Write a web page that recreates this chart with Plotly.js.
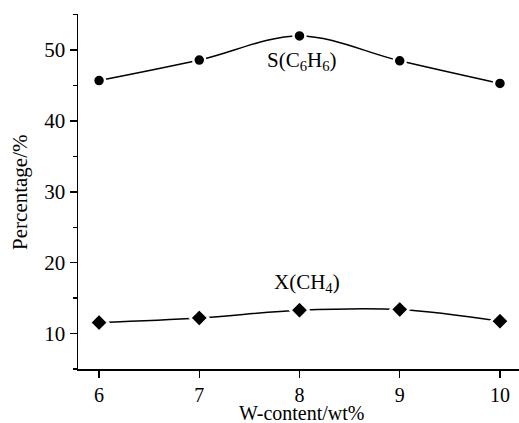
<!DOCTYPE html>
<html><head><meta charset="utf-8">
<script src="https://cdn.plot.ly/plotly-3.0.1.min.js"></script>
<style>body{margin:0;padding:0;background:#fff}#chart{width:519px;height:423px}</style>
</head><body><div id="chart"></div>
<script>
const wContent = [6, 7, 8, 9, 10];
const selC6H6 = [45.7, 48.6, 52.0, 48.5, 45.3];
const convCH4 = [11.55, 12.2, 13.3, 13.4, 11.75];
const xTicks = [6, 7, 8, 9, 10];
const yTicks = [10, 20, 30, 40, 50];
const xTitle = 'W-content/wt%';
const yTitle = 'Percentage/%';

const fontFam = '"Liberation Serif", "Times New Roman", serif';
const traces = [
  {x: wContent, y: selC6H6, mode: 'lines+markers', line: {shape: 'spline', smoothing: 1, color: '#000', width: 1.5},
   marker: {symbol: 'circle', size: 12, color: '#000', line: {color: '#fff', width: 2.5}}},
  {x: wContent, y: convCH4, mode: 'lines+markers', line: {shape: 'spline', smoothing: 1, color: '#000', width: 1.5},
   marker: {symbol: 'diamond', size: 14, color: '#000', line: {color: '#fff', width: 2.5}}}
];
const layout = {
  width: 519, height: 423, showlegend: false,
  paper_bgcolor: '#fff', plot_bgcolor: '#fff',
  margin: {l: 78, r: 0, t: 14, b: 54},
  font: {family: fontFam, size: 21, color: '#000'},
  xaxis: {range: [5.79, 10.19], tickvals: xTicks, ticktext: xTicks.map(String), showgrid: false, zeroline: false,
    showline: true, linecolor: '#000', linewidth: 1.5, ticks: 'outside', ticklen: 7, tickwidth: 1.5, tickcolor: '#000',
    automargin: false, tickfont: {family: fontFam, size: 20}},
  yaxis: {range: [5, 55.1], tickvals: yTicks, ticktext: yTicks.map(String), showgrid: false, zeroline: false,
    showline: true, linecolor: '#000', linewidth: 1.5, ticks: 'outside', ticklen: 7, tickwidth: 1.5, tickcolor: '#000',
    automargin: false, tickfont: {family: fontFam, size: 21},
    minor: {dtick: 5, ticks: 'outside', ticklen: 4, tickwidth: 1.5, tickcolor: '#000', showgrid: false}},
  annotations: [
    {x: 8.02, y: 48.5, xref: 'x', yref: 'y', text: 'S(C<sub>6</sub>H<sub>6</sub>)', showarrow: false, font: {family: fontFam, size: 21}},
    {x: 8.07, y: 17.2, xref: 'x', yref: 'y', text: 'X(CH<sub>4</sub>)', showarrow: false, font: {family: fontFam, size: 21}},
    {x: 0.508, y: -0.125, xref: 'paper', yref: 'paper', text: xTitle, showarrow: false, xanchor: 'center', yanchor: 'middle', borderpad: 0, font: {family: fontFam, size: 20}},
    {x: -0.1315, y: 0.496, xref: 'paper', yref: 'paper', text: yTitle, showarrow: false, textangle: -90, xanchor: 'center', yanchor: 'middle', font: {family: fontFam, size: 21}}
  ]
};
Plotly.newPlot('chart', traces, layout, {displayModeBar: false, staticPlot: true});
</script></body></html>
